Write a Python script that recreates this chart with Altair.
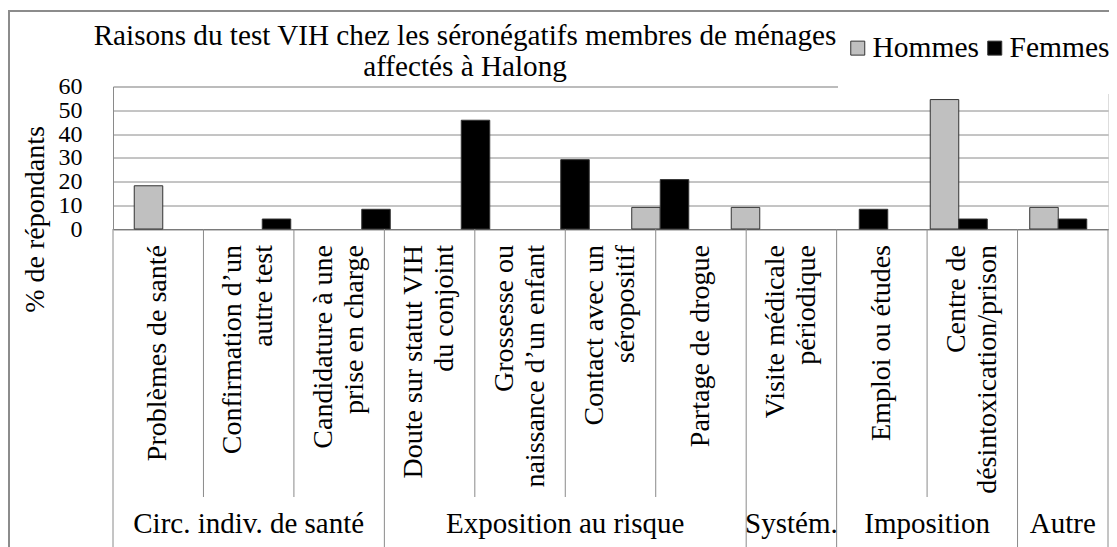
import altair as alt
import pandas as pd

# ---------------- data ----------------
categories = [
    "Problèmes de santé",
    "Confirmation d’un\nautre test",
    "Candidature à une\nprise en charge",
    "Doute sur statut VIH\ndu conjoint",
    "Grossesse ou\nnaissance d’un enfant",
    "Contact avec un\nséropositif",
    "Partage de drogue",
    "Visite médicale\npériodique",
    "Emploi ou études",
    "Centre de\ndésintoxication/prison",
    "",
]
hommes = [18.2, 0, 0, 0, 0, 9.1, 9.1, 0, 54.5, 0, 9.1]
femmes = [0, 4.2, 8.3, 45.8, 29.2, 20.8, 0, 8.3, 4.2, 0, 4.2]
groups = ["Circ. indiv. de santé", "Exposition au risque", "Systém.", "Imposition", "Autre"]
group_sizes = [3, 4, 1, 2, 1]
series = ["Hommes", "Femmes"]
y_ticks = [0, 10, 20, 30, 40, 50, 60]
title_lines = ["Raisons du test VIH chez les séronégatifs membres de ménages",
               "affectés à Halong"]
y_title = "% de répondants"

# ---------------- layout / style ----------------
FONT = "Liberation Serif"
FS = 28
NBSP = "\u00a0"
GRID = "#8a8a8a"
line_pad = [0, 8, 2, 8, 7, 4, 0, 4, 0, 10, 0]   # centring of 2-line rotated labels

W, H = 995, 142.5
PAD_L, PAD_T = 105, 78.5
TOTAL_W, TOTAL_H = 1101, 539


def centre_lines(label, n):
    lines = label.split("\n")
    if len(lines) == 2 and n:
        i = 0 if len(lines[0]) < len(lines[1]) else 1
        lines[i] = lines[i] + NBSP * n
    return "\n".join(lines)


cat_keys = [centre_lines(c, p) for c, p in zip(categories, line_pad)]

rows = []
for k, h, f in zip(cat_keys, hommes, femmes):
    rows.append({"cat": k, "sex": "Hommes", "value": h})
    rows.append({"cat": k, "sex": "Femmes", "value": f})
df = pd.DataFrame(rows)

df_labels = pd.DataFrame({
    "text": cat_keys,
    "mid": [i + 0.5 for i in range(len(cat_keys))],
    "lines": [len(c.split("\n")) for c in cat_keys],
})

# group boundaries / label positions from group sizes
bounds = [0]
for s in group_sizes:
    bounds.append(bounds[-1] + s)
sep_rows = []
for i in range(len(categories) + 1):
    sep_rows.append({"pos": i, "kind": "group" if i in bounds else "inner"})
df_sep = pd.DataFrame(sep_rows)
df_groups = pd.DataFrame({"name": groups, "start": bounds[:-1], "end": bounds[1:]})

xq = alt.Scale(domain=[0, len(categories)], nice=False, zero=True)

bars = alt.Chart(df).transform_filter("datum.value > 0").mark_bar(
    stroke="#333333", strokeWidth=1
).encode(
    x=alt.X("cat:N", sort=cat_keys, title=None,
            scale=alt.Scale(paddingInner=0.427, paddingOuter=0.2135),
            axis=alt.Axis(labels=False, ticks=False, tickSize=0,
                          domainColor="#7a7a7a", grid=False)),
    xOffset=alt.XOffset("sex:N", sort=series),
    y=alt.Y("value:Q", title=y_title,
            scale=alt.Scale(domain=[0, 60], nice=False),
            axis=alt.Axis(values=y_ticks, labelFont=FONT, labelFontSize=24,
                          labelColor="black", labelPadding=31, ticks=False, tickSize=0,
                          labelOverlap=False, labelFlush=False,
                          domainColor=GRID, gridColor=GRID, grid=True,
                          titleFont=FONT, titleFontSize=FS, titleFontWeight="normal",
                          titleColor="black", titleAngle=270, titleX=-78, titleY=132.5,
                          titleAlign="center", titleBaseline="middle")),
    color=alt.Color("sex:N", sort=series,
                    scale=alt.Scale(domain=series, range=["#c0c0c0", "#000000"]),
                    legend=alt.Legend(orient="none", legendX=725, legendY=-58.5,
                                      direction="horizontal", title=NBSP,
                                      titleOrient="bottom", titleFontSize=10,
                                      titlePadding=16, fillColor="white", padding=5,
                                      labelFont=FONT, labelFontSize=29.5,
                                      labelColor="black", symbolType="square",
                                      symbolSize=196, symbolStrokeColor="#333333",
                                      symbolStrokeWidth=1, labelOffset=0,
                                      columnPadding=0)),
)

label_common = dict(font=FONT, fontSize=FS, color="black", align="right",
                    baseline="middle", angle=270, lineBreak="\n", lineHeight=31)

cat_single = alt.Chart(df_labels).transform_filter("datum.lines == 1").mark_text(
    **label_common
).encode(
    x=alt.X("mid:Q", scale=xq, axis=None),
    y=alt.value(158.5),
    text="text:N",
)

cat_double = alt.Chart(df_labels).transform_filter("datum.lines == 2").mark_text(
    dy=-15.5, **label_common
).encode(
    x=alt.X("mid:Q", scale=xq, axis=None),
    y=alt.value(158.5),
    text="text:N",
)

inner = alt.Chart(df_sep).transform_filter("datum.kind == 'inner'").mark_rule(
    color=GRID, strokeWidth=1
).encode(
    x=alt.X("pos:Q", scale=xq, axis=None),
    y=alt.value(H),
    y2=alt.value(410.5),
)

outer = alt.Chart(df_sep).transform_filter("datum.kind == 'group'").mark_rule(
    color=GRID, strokeWidth=1
).encode(
    x=alt.X("pos:Q", scale=xq, axis=None),
    y=alt.value(H),
    y2=alt.value(700),
)

group_text = alt.Chart(df_groups).transform_calculate(
    mid="(datum.start + datum.end) / 2"
).mark_text(font=FONT, fontSize=29, color="black", align="center",
            baseline="alphabetic").encode(
    x=alt.X("mid:Q", scale=xq, axis=None),
    y=alt.value(446.5),
    text="name:N",
)

title = alt.Chart(alt.Data(values=[{"t": "\n".join(title_lines)}])).mark_text(
    font=FONT, fontSize=29.2, color="black", align="center", baseline="alphabetic",
    lineBreak="\n", lineHeight=31
).encode(
    x=alt.value(352),
    y=alt.value(-41.5),
    text="t:N",
)

frame = alt.Chart(alt.Data(values=[{"a": 1}])).mark_rect(
    fillOpacity=0, stroke="#8c8c8c", strokeWidth=2
).encode(
    x=alt.value(-104), x2=alt.value(1200),
    y=alt.value(-75.5), y2=alt.value(1000),
)

chart = alt.layer(frame, bars, inner, outer, cat_single, cat_double, group_text,
                  title).resolve_scale(
    x="independent"
).properties(
    width=W, height=H,
    padding={"left": PAD_L, "top": PAD_T, "right": TOTAL_W - PAD_L - W,
             "bottom": TOTAL_H - PAD_T - H},
    autosize=alt.AutoSizeParams(type="none"),
).configure_view(stroke=None).configure(background="white")

chart.save("out.html", embed_options={"renderer": "svg", "actions": False})
